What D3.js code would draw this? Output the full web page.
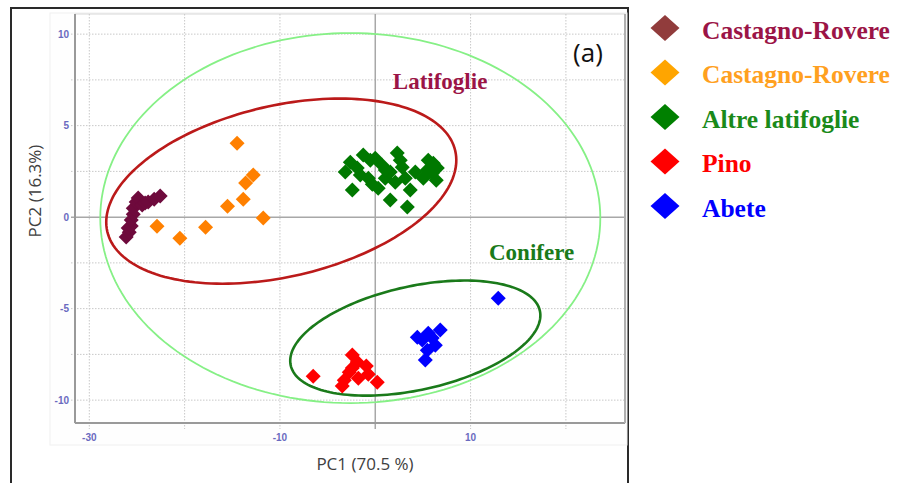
<!DOCTYPE html>
<html>
<head>
<meta charset="utf-8">
<script src="https://cdn.jsdelivr.net/npm/d3@7"></script>
<style>
  html, body { margin: 0; padding: 0; background: #fff; }
  svg { display: block; }
</style>
</head>
<body>
<svg id="chart" width="898" height="483"></svg>
<script>
// ---------- DATA ----------
const seriesNames = ["Castagno-Rovere", "Castagno-Rovere", "Altre latifoglie", "Pino", "Abete"];

const castagnoRovere1 = [
  [-26.13, -1.09], [-25.81, -0.82], [-25.92, -0.6], [-25.6, -0.49], [-25.6, -0.16],
  [-25.39, 0.16], [-25.39, 0.49], [-25.08, 0.82], [-24.87, 1.04], [-24.45, 0.66],
  [-24.14, 0.77], [-23.82, 0.82], [-23.19, 0.98], [-22.56, 1.15]
];
const castagnoRovere2 = [
  [-14.5, 4.04], [-12.8, 2.3], [-13.6, 1.86], [-13.85, 0.98], [-15.5, 0.6],
  [-11.75, -0.05], [-17.8, -0.55], [-20.5, -1.15], [-22.9, -0.5]
];
const altreLatifoglie = [
  [-3.15, 2.46], [-2.62, 3.0], [-1.89, 2.68], [-1.26, 3.39], [-0.52, 3.11], [0, 3.22],
  [0.73, 2.84], [-2.41, 1.48], [-0.73, 2.13], [-0.31, 1.80], [0.31, 1.58], [1.05, 2.13],
  [1.57, 2.46], [2.31, 3.50], [2.62, 3.11], [2.83, 2.73], [2.10, 1.91], [3.15, 2.13],
  [3.67, 1.48], [1.57, 0.93], [3.36, 0.55], [5.56, 3.11], [6.09, 2.95], [5.98, 2.40],
  [5.04, 2.13], [5.46, 2.57], [6.51, 2.68], [6.40, 2.02], [1.05, 2.57], [-1.57, 2.30], [4.20, 2.46]
];
const pino = [
  [-6.51, -8.69], [-2.41, -7.54], [-1.89, -7.92], [-0.94, -8.14], [-0.73, -8.58], [-2.73, -8.47],
  [-3.25, -8.91], [-3.46, -9.23], [-1.78, -8.80], [0.21, -9.02], [-2.41, -8.25]
];
const abete = [
  [12.9, -4.43], [4.41, -6.56], [4.93, -6.72], [5.98, -6.61], [6.82, -6.17], [6.30, -7.0],
  [5.46, -7.27], [5.25, -7.81], [5.56, -6.34]
];

const xGridTicks = [-30, -20, -10, 0, 10, 20];
const xTickLabels = [-30, -10, 10];
const yGridTicks = [-10, -7.5, -5, -2.5, 0, 2.5, 5, 7.5, 10];
const yTickLabels = [-10, -5, 0, 5, 10];

// ellipses: center + two conjugate semi-axis vectors (data units)
const ellipseAll = { c: [-2.62, -0.05], u: [26.23, 0], v: [0, 10.11] };
const ellipseLatifoglie = { c: [-9.86, 1.42], u: [18.25, 2.21], v: [2.03, -4.55] };
const ellipseConifere = { c: [4.2, -6.61], u: [13.07, 1.49], v: [1.16, -2.77] };

const groupLabels = [
  { text: "Latifoglie", pos: [6.8, 7.0] },
  { text: "Conifere", pos: [16.4, -2.35] }
];

// ---------- STYLE ----------
const markColors = ["#6e0a3c", "#ff8000", "#007800", "#ff0000", "#0000ff"];
const legendMarkColors = ["#913c3c", "#ffa500", "#008000", "#ff0000", "#0000ff"];
const legendTextColors = ["#9b1446", "#ffa020", "#1a8a1a", "#ff0000", "#0000ff"];

const svg = d3.select("#chart");
const plot = { left: 75, right: 625, top: 14, bottom: 423 };

const x = d3.scaleLinear().domain([-31.5, 26.2]).range([plot.left, plot.right]);
const y = d3.scaleLinear().domain([-11.25, 11.1]).range([plot.bottom, plot.top]);

// outer frame
svg.append("rect").attr("x", 11).attr("y", 8).attr("width", 617).attr("height", 490)
  .attr("fill", "#fff").attr("stroke", "#2a2a2a").attr("stroke-width", 2);
// control area
svg.append("rect").attr("x", 50).attr("y", 13).attr("width", 577).attr("height", 432)
  .attr("fill", "#fefefe").attr("stroke", "#f0f0f0").attr("stroke-width", 1);

// plot background
svg.append("rect").attr("x", plot.left).attr("y", plot.top)
  .attr("width", plot.right - plot.left).attr("height", plot.bottom - plot.top)
  .attr("fill", "#fff").attr("stroke", "#d8d8d8").attr("stroke-width", 1);

// grid
const g = svg.append("g");
g.selectAll(".vg").data(xGridTicks.filter(d => d !== 0)).join("line")
  .attr("x1", d => x(d)).attr("x2", d => x(d))
  .attr("y1", plot.top).attr("y2", plot.bottom + 6)
  .attr("stroke", "#c8c8c8").attr("stroke-width", 1).attr("stroke-dasharray", "1.5,1.5");
g.selectAll(".hg").data(yGridTicks.filter(d => d !== 0)).join("line")
  .attr("y1", d => y(d)).attr("y2", d => y(d))
  .attr("x1", plot.left - 4).attr("x2", plot.right)
  .attr("stroke", "#c8c8c8").attr("stroke-width", 1).attr("stroke-dasharray", "1.5,1.5");
// zero lines
g.append("line").attr("x1", x(0)).attr("x2", x(0)).attr("y1", plot.top).attr("y2", plot.bottom + 6)
  .attr("stroke", "#a8a8a8").attr("stroke-width", 1.5);
g.append("line").attr("y1", y(0)).attr("y2", y(0)).attr("x1", plot.left - 4).attr("x2", plot.right)
  .attr("stroke", "#a8a8a8").attr("stroke-width", 1.5);

// axes lines
g.append("line").attr("x1", plot.left).attr("x2", plot.left).attr("y1", plot.top).attr("y2", plot.bottom)
  .attr("stroke", "#9a9a9a").attr("stroke-width", 2);
g.append("line").attr("x1", plot.left).attr("x2", plot.right).attr("y1", plot.bottom).attr("y2", plot.bottom)
  .attr("stroke", "#9a9a9a").attr("stroke-width", 2);
g.append("line").attr("x1", plot.right).attr("x2", plot.right).attr("y1", plot.top).attr("y2", plot.bottom)
  .attr("stroke", "#b0b0b0").attr("stroke-width", 2);

// tick labels
g.selectAll(".xl").data(xTickLabels).join("text")
  .attr("x", d => x(d)).attr("y", 441).attr("text-anchor", "middle")
  .attr("font-family", "Liberation Sans, Arial, sans-serif").attr("font-size", 10).attr("font-weight", "bold")
  .attr("fill", "#6a6ac0").text(d => d);
g.selectAll(".yl").data(yTickLabels).join("text")
  .attr("x", 69).attr("y", d => y(d) + 3.5).attr("text-anchor", "end")
  .attr("font-family", "Liberation Sans, Arial, sans-serif").attr("font-size", 10).attr("font-weight", "bold")
  .attr("fill", "#6a6ac0").text(d => d);

// axis titles
svg.append("text").attr("x", 365).attr("y", 470).attr("text-anchor", "middle")
  .attr("font-family", "Open Sans, sans-serif").attr("font-size", 17).attr("fill", "#404040")
  .text("PC1 (70.5 %)");
svg.append("text").attr("transform", "translate(41,191) rotate(-90)").attr("text-anchor", "middle")
  .attr("font-family", "Open Sans, sans-serif").attr("font-size", 17).attr("fill", "#404040")
  .text("PC2 (16.3%)");

// ellipses
function ellipsePoints(e) {
  return d3.range(0, 361, 2).map(deg => {
    const t = deg * Math.PI / 180;
    return [e.c[0] + Math.cos(t) * e.u[0] + Math.sin(t) * e.v[0],
            e.c[1] + Math.cos(t) * e.u[1] + Math.sin(t) * e.v[1]];
  });
}
const line = d3.line().x(d => x(d[0])).y(d => y(d[1])).curve(d3.curveLinearClosed);
svg.append("path").attr("d", line(ellipsePoints(ellipseAll)))
  .attr("fill", "none").attr("stroke", "#86f086").attr("stroke-width", 1.8);
svg.append("path").attr("d", line(ellipsePoints(ellipseLatifoglie)))
  .attr("fill", "none").attr("stroke", "#bb1a1a").attr("stroke-width", 2.6);
svg.append("path").attr("d", line(ellipsePoints(ellipseConifere)))
  .attr("fill", "none").attr("stroke", "#1a7a1a").attr("stroke-width", 2.6);

// markers
function diamond(cx, cy, hw, hh) {
  return `M${cx},${cy - hh}L${cx + hw},${cy}L${cx},${cy + hh}L${cx - hw},${cy}Z`;
}
const allSeries = [castagnoRovere1, castagnoRovere2, altreLatifoglie, pino, abete];
allSeries.forEach((s, i) => {
  svg.append("g").selectAll("path").data(s).join("path")
    .attr("d", d => diamond(x(d[0]), y(d[1]), 7.5, 7.5))
    .attr("fill", markColors[i]);
});

// group labels
svg.selectAll(".gl").data(groupLabels).join("text")
  .attr("x", d => x(d.pos[0])).attr("y", d => y(d.pos[1])).attr("text-anchor", "middle")
  .attr("font-family", "Liberation Serif, Times New Roman, serif").attr("font-weight", "bold")
  .attr("font-size", 23)
  .attr("fill", (d, i) => i === 0 ? "#9b1446" : "#1a7a1a")
  .text(d => d.text);

// (a)
svg.append("text").attr("x", 588).attr("y", 62).attr("text-anchor", "middle")
  .attr("font-family", "Open Sans, sans-serif").attr("font-size", 26).attr("fill", "#111")
  .text("(a)");

// legend
const legend = svg.append("g");
seriesNames.forEach((name, i) => {
  const cy = 28 + i * 44.5;
  legend.append("path").attr("d", diamond(665, cy, 14.5, 13)).attr("fill", legendMarkColors[i]);
  legend.append("text").attr("x", 702).attr("y", cy + 10.5)
    .attr("font-family", "Liberation Serif, Times New Roman, serif").attr("font-weight", "bold")
    .attr("font-size", 25.5).attr("fill", legendTextColors[i]).text(name);
});
</script>
</body>
</html>
